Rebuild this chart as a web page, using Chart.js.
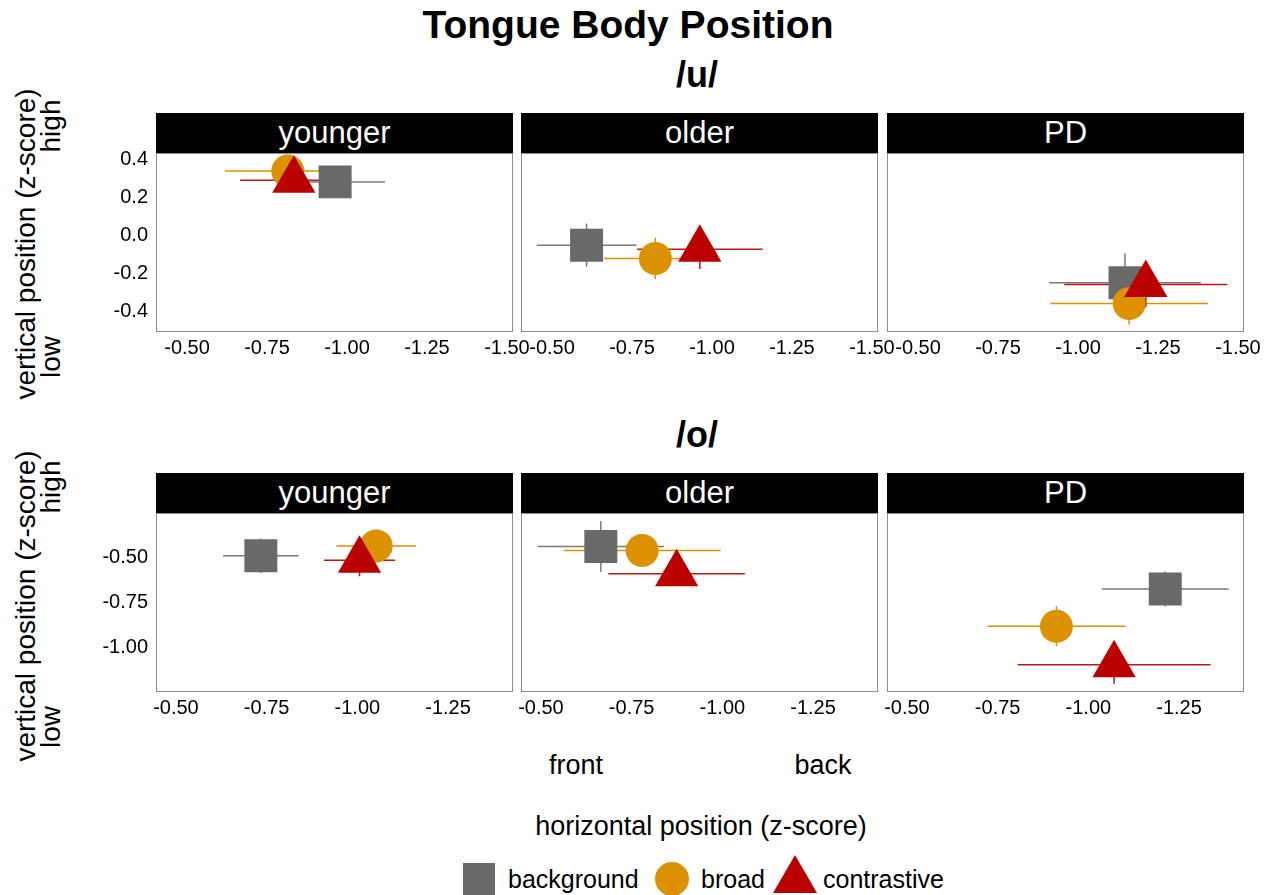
<!DOCTYPE html>
<html>
<head>
<meta charset="utf-8">
<script src="https://cdn.jsdelivr.net/npm/chart.js@4.4.1/dist/chart.umd.min.js"></script>
<style>
  body { margin: 0; background: #fff; font-family: "Liberation Sans", Arial, sans-serif; }
  #page { position: relative; width: 1266px; height: 895px; overflow: hidden; background: #fff; }
  .lbl { position: absolute; transform: translate(-50%, -50%); line-height: 1; white-space: nowrap; color: #000; }
  .rot { transform: translate(-50%, -50%) rotate(-90deg); }
  .strip { position: absolute; background: #000; color: #fff; text-align: center; font-size: 31px; }
  .panel { position: absolute; }
  .key { position: absolute; }
  .legtxt { position: absolute; font-size: 25px; line-height: 1; transform: translateY(-50%); white-space: nowrap; }
</style>
</head>
<body>
<div id="page">
  <div class="lbl" style="left:628px; top:24px; font-size:39px; font-weight:bold;">Tongue Body Position</div>
  <div class="lbl" style="left:697px; top:75px; font-size:36px; font-weight:bold;">/u/</div>
  <div class="lbl" style="left:697px; top:435px; font-size:36px; font-weight:bold;">/o/</div>

  <div class="lbl rot" style="left:26px; top:244px; font-size:28px;">vertical position (z-score)</div>
  <div class="lbl rot" style="left:51px; top:126px; font-size:28px;">high</div>
  <div class="lbl rot" style="left:51px; top:357px; font-size:28px;">low</div>
  <div class="lbl rot" style="left:26px; top:606px; font-size:28px;">vertical position (z-score)</div>
  <div class="lbl rot" style="left:51px; top:487px; font-size:28px;">high</div>
  <div class="lbl rot" style="left:51px; top:727px; font-size:28px;">low</div>

  <div class="lbl" style="left:576px; top:765px; font-size:27px;">front</div>
  <div class="lbl" style="left:823px; top:765px; font-size:27px;">back</div>
  <div class="lbl" style="left:701px; top:826px; font-size:27px;">horizontal position (z-score)</div>

  <div class="key" style="left:463px; top:863px; width:32px; height:32px; background:#696969;"></div>
  <div class="legtxt" style="left:508px; top:879px;">background</div>
  <div class="key" style="left:655px; top:862px; width:34px; height:34px; border-radius:50%; background:#DB9100;"></div>
  <div class="legtxt" style="left:701px; top:879px;">broad</div>
  <div class="key" style="left:773px; top:855px; width:44px; height:38px; background:#BB0000; clip-path:polygon(50% 0, 100% 100%, 0 100%);"></div>
  <div class="legtxt" style="left:823px; top:879px;">contrastive</div>
</div>

<script>
const groups = ['younger', 'older', 'PD'];
const conditions = ['background', 'broad', 'contrastive'];

// /u/ - one value per group: younger, older, PD
const uBackgroundX = [-0.963, -0.608, -1.147];
const uBackgroundY = [0.280, -0.053, -0.251];
const uBackgroundXErr = [0.156, 0.156, 0.237];
const uBackgroundYErr = [0.060, 0.114, 0.155];
const uBroadX = [-0.815, -0.823, -1.160];
const uBroadY = [0.337, -0.123, -0.360];
const uBroadXErr = [0.196, 0.160, 0.246];
const uBroadYErr = [0.050, 0.109, 0.110];
const uContrastiveX = [-0.834, -0.962, -1.212];
const uContrastiveY = [0.289, -0.074, -0.260];
const uContrastiveXErr = [0.168, 0.196, 0.255];
const uContrastiveYErr = [0.050, 0.105, 0.120];

// /o/
const oBackgroundX = [-0.734, -0.665, -1.212];
const oBackgroundY = [-0.493, -0.442, -0.676];
const oBackgroundXErr = [0.104, 0.174, 0.175];
const oBackgroundYErr = [0.095, 0.140, 0.096];
const oBroadX = [-1.052, -0.779, -0.912];
const oBroadY = [-0.439, -0.464, -0.881];
const oBroadXErr = [0.110, 0.216, 0.190];
const oBroadYErr = [0.060, 0.070, 0.110];
const oContrastiveX = [-1.006, -0.874, -1.071];
const oContrastiveY = [-0.518, -0.592, -1.092];
const oContrastiveXErr = [0.098, 0.188, 0.266];
const oContrastiveYErr = [0.088, 0.050, 0.105];

// axis ticks and limits
const uXTicks = [-0.5, -0.75, -1.0, -1.25, -1.5];
const uYTicks = [0.4, 0.2, 0.0, -0.2, -0.4];
const oXTicks = [-0.5, -0.75, -1.0, -1.25];
const oYTicks = [-0.5, -0.75, -1.0];
const uXLimits = [-1.519, -0.403];
const uYLimits = [-0.51, 0.432];
const oXLimits = [-1.429, -0.445];
const oYLimits = [-1.242, -0.258];

// styles
const markerColors = ['#696969', '#DB9100', '#BB0000'];
const errColors = ['#7a7a7a', '#DB9100', '#C01515'];
const markerStyles = ['rect', 'circle', 'triangle'];
const markerSizes = [23.3, 16.5, 25];
const FONT = '"Liberation Sans", Arial, sans-serif';

const rows = [
    {
        series: [
            [uBackgroundX, uBackgroundY, uBackgroundXErr, uBackgroundYErr],
            [uBroadX, uBroadY, uBroadXErr, uBroadYErr],
            [uContrastiveX, uContrastiveY, uContrastiveXErr, uContrastiveYErr]
        ],
        xTicks: uXTicks, yTicks: uYTicks, xLim: uXLimits, yLim: uYLimits, yDigits: 1,
        stripTop: 113
    },
    {
        series: [
            [oBackgroundX, oBackgroundY, oBackgroundXErr, oBackgroundYErr],
            [oBroadX, oBroadY, oBroadXErr, oBroadYErr],
            [oContrastiveX, oContrastiveY, oContrastiveXErr, oContrastiveYErr]
        ],
        xTicks: oXTicks, yTicks: oYTicks, xLim: oXLimits, yLim: oYLimits, yDigits: 2,
        stripTop: 473
    }
];

const colLeft = [156, 521, 887];
const panelW = 357;
const stripH = 40;
const plotH = 179;
const padL = 70, padR = 30, padT = 24, axisH = 40;

// error bars under the markers, grey border around the panel
const errorBars = {
    id: 'errorBars',
    beforeDatasetsDraw(chart) {
        const { ctx, scales: { x, y } } = chart;
        chart.data.datasets.forEach(ds => {
            ctx.save();
            ctx.strokeStyle = ds.errColor;
            ctx.lineWidth = 1.5;
            ds.data.forEach(p => {
                const px = x.getPixelForValue(p.x);
                const py = y.getPixelForValue(p.y);
                ctx.beginPath();
                ctx.moveTo(x.getPixelForValue(p.x - p.xErr), py);
                ctx.lineTo(x.getPixelForValue(p.x + p.xErr), py);
                ctx.moveTo(px, y.getPixelForValue(p.y - p.yErr));
                ctx.lineTo(px, y.getPixelForValue(p.y + p.yErr));
                ctx.stroke();
            });
            ctx.restore();
        });
    },
    afterDraw(chart) {
        const { ctx, chartArea: a } = chart;
        ctx.save();
        ctx.strokeStyle = '#8c8c8c';
        ctx.lineWidth = 1;
        ctx.strokeRect(Math.round(a.left) + 0.5, Math.round(a.top) + 0.5,
            Math.round(a.right - a.left) - 1, Math.round(a.bottom - a.top) - 1);
        ctx.restore();
    }
};

const page = document.getElementById('page');

rows.forEach(row => {
    const plotTop = row.stripTop + stripH;
    groups.forEach((group, g) => {
        // strip header
        const strip = document.createElement('div');
        strip.className = 'strip';
        strip.style.left = colLeft[g] + 'px';
        strip.style.top = row.stripTop + 'px';
        strip.style.width = panelW + 'px';
        strip.style.height = stripH + 'px';
        strip.style.lineHeight = stripH + 'px';
        strip.textContent = group;
        page.appendChild(strip);

        const wrap = document.createElement('div');
        wrap.className = 'panel';
        wrap.style.left = (colLeft[g] - padL) + 'px';
        wrap.style.top = (plotTop - padT) + 'px';
        wrap.style.width = (padL + panelW + padR) + 'px';
        wrap.style.height = (padT + plotH + axisH) + 'px';
        const canvas = document.createElement('canvas');
        wrap.appendChild(canvas);
        page.appendChild(wrap);

        const datasets = conditions.map((cond, c) => {
            const [xs, ys, xe, ye] = row.series[c];
            return {
                label: cond,
                data: [{ x: xs[g], y: ys[g], xErr: xe[g], yErr: ye[g] }],
                order: conditions.length - c, // contrastive drawn last (on top)
                pointStyle: markerStyles[c],
                pointRadius: markerSizes[c],
                pointHoverRadius: markerSizes[c],
                backgroundColor: markerColors[c],
                borderWidth: 0,
                errColor: errColors[c],
                clip: false
            };
        });

        new Chart(canvas, {
            type: 'scatter',
            data: { datasets },
            options: {
                responsive: true,
                maintainAspectRatio: false,
                animation: false,
                events: [],
                layout: { autoPadding: false, padding: { left: 0, right: padR, top: padT, bottom: 0 } },
                plugins: { legend: { display: false }, tooltip: { enabled: false } },
                scales: {
                    x: {
                        type: 'linear',
                        reverse: true,
                        min: row.xLim[0],
                        max: row.xLim[1],
                        grid: { display: false, drawTicks: false },
                        border: { display: false },
                        afterBuildTicks: s => { s.ticks = row.xTicks.map(v => ({ value: v })); },
                        afterFit: s => { s.height = axisH; },
                        ticks: {
                            font: { size: 20, family: FONT },
                            color: '#000',
                            padding: 4,
                            maxRotation: 0,
                            autoSkip: false,
                            callback: v => v.toFixed(2)
                        }
                    },
                    y: {
                        type: 'linear',
                        display: g === 0,
                        min: row.yLim[0],
                        max: row.yLim[1],
                        grid: { display: false, drawTicks: false },
                        border: { display: false },
                        afterBuildTicks: s => { s.ticks = row.yTicks.map(v => ({ value: v })); },
                        afterFit: s => { s.width = padL; },
                        ticks: {
                            font: { size: 20, family: FONT },
                            color: '#000',
                            padding: 8,
                            autoSkip: false,
                            callback: v => v.toFixed(row.yDigits)
                        }
                    }
                }
            },
            plugins: [errorBars]
        });
    });
});
</script>
</body>
</html>
